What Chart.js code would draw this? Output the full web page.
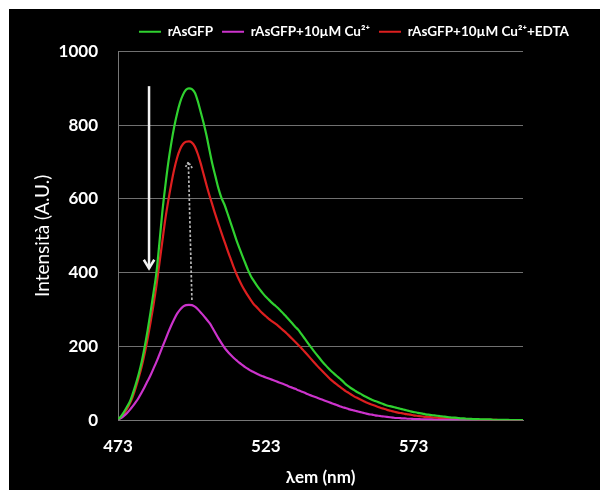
<!DOCTYPE html>
<html>
<head>
<meta charset="utf-8">
<script src="https://cdn.jsdelivr.net/npm/chart.js@4.4.1/dist/chart.umd.min.js"></script>
<style>
  html, body { margin: 0; padding: 0; background: #ffffff; }
  #wrap { position: absolute; left: 9px; top: 9px; width: 591px; height: 481px; background: #000000; }
  canvas { display: block; }
</style>
</head>
<body>
<div id="wrap"><canvas id="c" width="591" height="481"></canvas></div>
<script>
// Wavelengths (nm), 1 nm steps 473..610
const wavelengths = [];
for (let w = 473; w <= 610; w++) wavelengths.push(w);

const seriesNames = ["rAsGFP", "rAsGFP+10\u00B5M Cu\u00B2\u207A", "rAsGFP+10\u00B5M Cu\u00B2\u207A+EDTA"];

// rAsGFP (green)
const greenValues = [
  3,10,22,36,50,72,97,125,158,198,           // 473-482
  243,292,345,400,480,565,635,698,750,795,    // 483-492
  832,862,883,896,900,898,888,865,835,805,    // 493-502
  770,730,692,660,628,603,585,562,538,514,    // 503-512
  490,468,447,427,407,390,377,365,354,344,    // 513-522
  335,327,319,312,305,297,289,280,271,262,    // 523-532
  253,245,234,223,212,201,190,180,170,160,    // 533-542
  151,142,134,127,120,113,106,98,92,86,       // 543-552
  81,76,72,67,63,59,55,52,49,46,              // 553-562
  43,40,38,36,34,32,30,28,26,24,              // 563-572
  22,21,19,18,16,15,14,13,12,11,              // 573-582
  10,9,8,7,7,6,5,5,4,4,                       // 583-592
  3,3,3,2,2,2,2,1,1,1,                        // 593-602
  1,1,1,0,0,0,0,0                             // 603-610
];

// rAsGFP + 10 µM Cu2+ (magenta)
const magentaValues = [
  2,6,12,19,28,38,49,61,75,90,               // 473-482
  106,122,140,158,178,198,218,238,257,274,    // 483-492
  289,300,308,312,313,312,308,301,292,283,    // 493-502
  273,263,250,236,222,209,197,187,178,170,    // 503-512
  163,156,150,144,139,134,130,126,122,119,    // 513-522
  116,113,110,107,104,101,98,95,91,88,        // 523-532
  85,81,78,75,71,68,65,62,59,56,              // 533-542
  53,50,47,44,41,38,35,33,30,28,              // 543-552
  26,24,22,20,18,16,15,13,12,11,              // 553-562
  10,9,8,7,6,6,5,5,4,4,                       // 563-572
  3,3,3,2,2,2,2,1,1,1,                        // 573-582
  1,1,1,1,1,0,0,0,0,0,                        // 583-592
  0,0,0,0,0,0,0,0,0,0,                        // 593-602
  0,0,0,0,0,0,0,0                             // 603-610
];

// rAsGFP + 10 µM Cu2+ + EDTA (red)
const redValues = [
  2,8,18,30,45,64,88,115,145,180,            // 473-482
  220,265,312,365,425,485,545,595,640,680,    // 483-492
  712,735,749,755,756,753,742,722,696,666,    // 493-502
  636,608,582,556,532,508,485,462,440,418,    // 503-512
  398,380,364,350,337,325,314,306,297,289,    // 513-522
  282,275,269,263,257,250,243,236,228,220,    // 523-532
  212,204,196,187,178,169,160,151,142,134,    // 533-542
  126,118,110,103,97,91,85,79,74,69,          // 543-552
  64,60,56,52,48,45,42,39,36,33,              // 553-562
  31,28,26,24,22,20,19,17,16,15,              // 563-572
  13,12,11,10,9,9,8,7,7,6,                    // 573-582
  6,5,5,4,4,3,3,3,2,2,                        // 583-592
  2,2,1,1,1,1,1,1,1,0,                        // 593-602
  0,0,0,0,0,0,0,0                             // 603-610
];

const xTickValues = [473, 523, 573];
const yTickValues = [0, 200, 400, 600, 800, 1000];

// Annotation arrows: [x nm, y from, x nm, y to]
const solidArrow = [483.5, 906, 483.5, 412];
const dottedArrow = [498, 326, 496.8, 700];

function pts(vals) { return wavelengths.map((w, i) => ({ x: w, y: vals[i] })); }

const arrowPlugin = {
  id: 'arrows',
  afterDatasetsDraw(chart) {
    const { ctx, scales: { x, y } } = chart;
    function arrow(a, color, width, dash, head) {
      const x1 = x.getPixelForValue(a[0]), y1 = y.getPixelForValue(a[1]);
      const x2 = x.getPixelForValue(a[2]), y2 = y.getPixelForValue(a[3]);
      ctx.save();
      ctx.strokeStyle = color; ctx.lineWidth = width; ctx.setLineDash(dash);
      ctx.beginPath(); ctx.moveTo(x1, y1); ctx.lineTo(x2, y2); ctx.stroke();
      const ang = Math.atan2(y2 - y1, x2 - x1);
      ctx.setLineDash(dash.length ? [2, 1.5] : []);
      ctx.beginPath();
      ctx.moveTo(x2 - head * Math.cos(ang - 0.55), y2 - head * Math.sin(ang - 0.55));
      ctx.lineTo(x2, y2);
      ctx.lineTo(x2 - head * Math.cos(ang + 0.55), y2 - head * Math.sin(ang + 0.55));
      ctx.stroke();
      ctx.restore();
    }
    arrow(solidArrow, '#f2f2f2', 2.5, [], 10);
    arrow(dottedArrow, '#b8b8b8', 1.7, [2.5, 2], 7);
  }
};

const legendSpacer = {
  id: 'legendSpacer',
  afterInit(chart) {
    const lg = chart.legend;
    const orig = lg.fit;
    lg.fit = function () { orig.call(this); this.height += 3; };
  }
};

const FONT = 'Lato, "Open Sans", sans-serif';
const colors = ['#2fd12f', '#cc33cc', '#dd1f1f'];

function ds(i, vals) {
  return {
    label: seriesNames[i], data: pts(vals),
    borderColor: colors[i], backgroundColor: colors[i],
    pointBorderColor: colors[i], pointBackgroundColor: colors[i],
    pointBorderWidth: 2.2, pointStyle: 'line'
  };
}

new Chart(document.getElementById('c'), {
  type: 'line',
  data: {
    datasets: [ds(0, greenValues), ds(1, magentaValues), ds(2, redValues)]
  },
  options: {
    responsive: false,
    animation: false,
    layout: { padding: { top: 7, right: 22, left: 22, bottom: 2 } },
    elements: {
      point: { radius: 0 },
      line: { borderWidth: 2.2, tension: 0.3, cubicInterpolationMode: 'monotone' }
    },
    plugins: {
      tooltip: { enabled: false },
      legend: {
        align: 'end',
        labels: {
          color: '#ffffff',
          font: { family: FONT, size: 13.5, weight: 'bold' },
          usePointStyle: true,
          pointStyle: 'line',
          pointStyleWidth: 22,
          padding: 9
        }
      }
    },
    scales: {
      x: {
        type: 'linear',
        min: 473, max: 610,
        afterBuildTicks: s => { s.ticks = xTickValues.map(v => ({ value: v })); },
        grid: { display: false, drawTicks: false },
        border: { display: true, color: '#777777', width: 1 },
        ticks: { color: '#ffffff', font: { family: FONT, size: 17, weight: 'bold' }, padding: 16, autoSkip: false, maxRotation: 0, callback: v => String(v) },
        title: { display: true, text: '\u03BBem (nm)', color: '#ffffff', font: { family: FONT, size: 17, weight: 'bold' }, padding: { top: -5, bottom: 0 } }
      },
      y: {
        min: 0, max: 1000,
        afterBuildTicks: s => { s.ticks = yTickValues.map(v => ({ value: v })); },
        afterFit: s => { s.width = 87; },
        grid: { color: '#707070', lineWidth: 1, drawTicks: false },
        border: { display: true, color: '#777777', width: 1 },
        ticks: { color: '#ffffff', font: { family: FONT, size: 17, weight: 'bold' }, padding: 20, callback: v => String(v) },
        title: { display: true, text: 'Intensit\u00E0 (A.U.)', color: '#ffffff', font: { family: FONT, size: 19 }, padding: { top: 0, bottom: 0 } }
      },
      y2: {
        position: 'right',
        display: true,
        afterFit: s => { s.width = 55; },
        grid: { display: false, drawTicks: false },
        border: { display: false },
        ticks: { display: false }
      }
    }
  },
  plugins: [arrowPlugin, legendSpacer]
});
</script>
</body>
</html>
